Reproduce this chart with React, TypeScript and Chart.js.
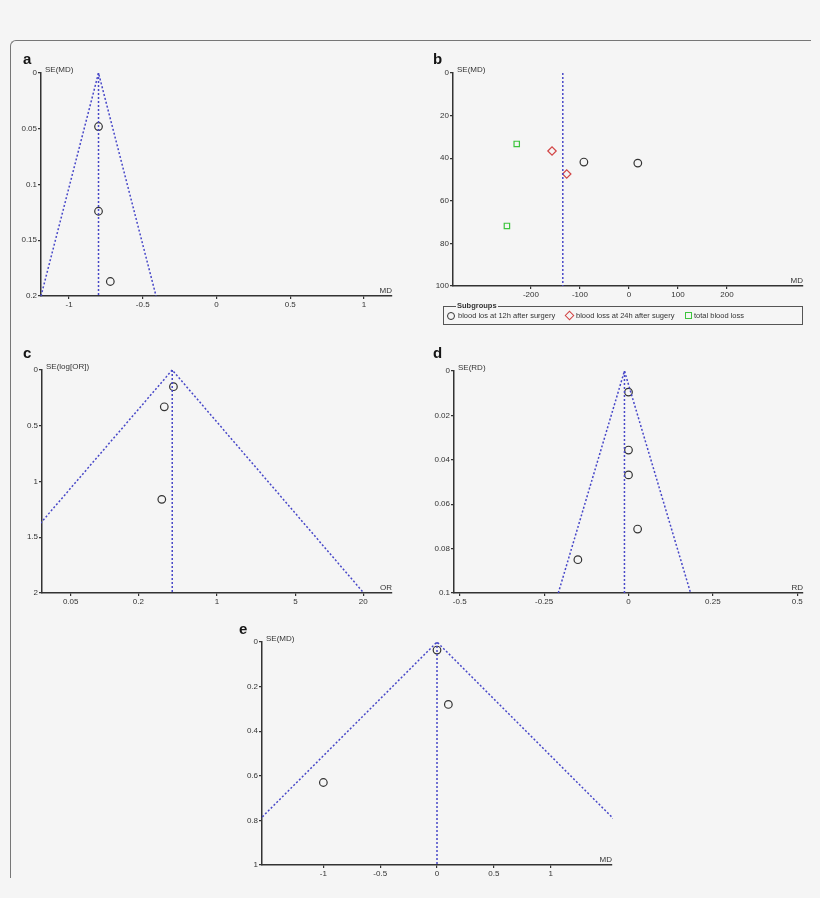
import { useEffect, useRef } from "react";
import { Chart, registerables } from "chart.js";

Chart.register(...registerables);

const FONT = '"Liberation Sans", Arial, sans-serif';
const BLUE = "#4747c8";
const INK = "#333333";
const BG = "#f5f5f5";

// panel a: SE(MD) against MD
const aStudyMD = [-0.8, -0.8, -0.72];
const aStudySE = [0.048, 0.124, 0.187];
const aFunnelMD = [-1.19, -0.8, -0.41];
const aFunnelSE = [0.2, 0, 0.2];
const aPooled = -0.8;
const aTicksX = [-1, -0.5, 0, 0.5, 1];
const aTicksY = [0, 0.05, 0.1, 0.15, 0.2];

// panel b: three subgroups, only the pooled line
const bGroups = [
  "blood los at 12h after surgery",
  "blood loss at 24h after sugery",
  "total blood loss",
];
const b12hMD = [-92, 18];
const b12hSE = [41.8, 42.3];
const b24hMD = [-157, -127];
const b24hSE = [36.6, 47.4];
const bTotalMD = [-229, -249];
const bTotalSE = [33.3, 71.8];
const bPooled = -135;
const bTicksX = [-200, -100, 0, 100, 200];
const bTicksY = [0, 20, 40, 60, 80, 100];

// panel c: log OR
const cStudyOR = [0.41, 0.34, 0.323];
const cStudySE = [0.15, 0.33, 1.16];
const cFunnelOR = [0.0079, 0.4, 20.2];
const cFunnelSE = [2, 0, 2];
const cPooled = 0.4;
const cTicksX = [0.05, 0.2, 1, 5, 20];
const cTicksY = [0, 0.5, 1, 1.5, 2];

// panel d: RD
const dStudyRD = [0, 0, 0, 0.027, -0.15];
const dStudySE = [0.0095, 0.0356, 0.0468, 0.0712, 0.085];
const dFunnelRD = [-0.208, -0.012, 0.184];
const dFunnelSE = [0.1, 0, 0.1];
const dPooled = -0.012;
const dTicksX = [-0.5, -0.25, 0, 0.25, 0.5];
const dTicksY = [0, 0.02, 0.04, 0.06, 0.08, 0.1];

// panel e: MD
const eStudyMD = [0, 0.1, -1];
const eStudySE = [0.036, 0.28, 0.63];
const eFunnelMD = [-1.96, 0, 1.96];
const eFunnelSE = [1, 0, 1];
const ePooled = 0;
const eTicksX = [-1, -0.5, 0, 0.5, 1];
const eTicksY = [0, 0.2, 0.4, 0.6, 0.8, 1];

type Box = { x: number; y: number; w: number; h: number };
type Area = { l: number; t: number; r: number; b: number };
type PanelSpec = {
  letter: string;
  letterAt: [number, number];
  box: Box;
  area: Area;
  xType: "linear" | "logarithmic";
  xMin: number;
  xMax: number;
  xTicks: number[];
  yMax: number;
  yTicks: number[];
  xTitle: string;
  yTitle: string;
  datasets: any[];
};

const pts = (xs: number[], ys: number[]) => xs.map((x, i) => ({ x, y: ys[i] }));

const dashed = (data: { x: number; y: number }[]) => ({
  data,
  showLine: true,
  borderColor: BLUE,
  borderWidth: 1.5,
  borderDash: [2, 2],
  pointRadius: 0,
  fill: false,
  clip: 1,
});

const marks = (data: { x: number; y: number }[], style: string, color: string, r = 3.8) => ({
  data,
  showLine: false,
  pointStyle: style,
  pointRadius: r,
  pointBorderColor: color,
  pointBorderWidth: 1.2,
  pointBackgroundColor: "rgba(0,0,0,0)",
});

const panels: PanelSpec[] = [
  {
    letter: "a",
    letterAt: [23, 64],
    box: { x: 14, y: 44, w: 396, h: 270 },
    area: { l: 41, t: 73, r: 392, b: 296 },
    xType: "linear",
    xMin: -1.19,
    xMax: 1.19,
    xTicks: aTicksX,
    yMax: 0.2,
    yTicks: aTicksY,
    xTitle: "MD",
    yTitle: "SE(MD)",
    datasets: [
      dashed(pts(aFunnelMD, aFunnelSE)),
      dashed(pts([aPooled, aPooled], [0, 0.2])),
      marks(pts(aStudyMD, aStudySE), "circle", INK),
    ],
  },
  {
    letter: "b",
    letterAt: [433, 64],
    box: { x: 420, y: 44, w: 396, h: 260 },
    area: { l: 453, t: 73, r: 803, b: 286 },
    xType: "linear",
    xMin: -359,
    xMax: 355,
    xTicks: bTicksX,
    yMax: 100,
    yTicks: bTicksY,
    xTitle: "MD",
    yTitle: "SE(MD)",
    datasets: [
      dashed(pts([bPooled, bPooled], [0, 100])),
      marks(pts(b12hMD, b12hSE), "circle", INK),
      marks(pts(b24hMD, b24hSE), "rectRot", "#d24545", 4.2),
      marks(pts(bTotalMD, bTotalSE), "rect", "#3cc43c", 3.8),
    ],
  },
  {
    letter: "c",
    letterAt: [23, 358],
    box: { x: 14, y: 340, w: 396, h: 270 },
    area: { l: 42, t: 370, r: 392, b: 593 },
    xType: "logarithmic",
    xMin: 0.0278,
    xMax: 36,
    xTicks: cTicksX,
    yMax: 2,
    yTicks: cTicksY,
    xTitle: "OR",
    yTitle: "SE(log[OR])",
    datasets: [
      dashed(pts(cFunnelOR, cFunnelSE)),
      dashed(pts([cPooled, cPooled], [0, 2])),
      marks(pts(cStudyOR, cStudySE), "circle", INK),
    ],
  },
  {
    letter: "d",
    letterAt: [433, 358],
    box: { x: 420, y: 340, w: 396, h: 270 },
    area: { l: 454, t: 371, r: 803, b: 593 },
    xType: "linear",
    xMin: -0.517,
    xMax: 0.517,
    xTicks: dTicksX,
    yMax: 0.1,
    yTicks: dTicksY,
    xTitle: "RD",
    yTitle: "SE(RD)",
    datasets: [
      dashed(pts(dFunnelRD, dFunnelSE)),
      dashed(pts([dPooled, dPooled], [0, 0.1])),
      marks(pts(dStudyRD, dStudySE), "circle", INK),
    ],
  },
  {
    letter: "e",
    letterAt: [239, 634],
    box: { x: 214, y: 615, w: 420, h: 270 },
    area: { l: 262, t: 642, r: 612, b: 865 },
    xType: "linear",
    xMin: -1.54,
    xMax: 1.54,
    xTicks: eTicksX,
    yMax: 1,
    yTicks: eTicksY,
    xTitle: "MD",
    yTitle: "SE(MD)",
    datasets: [
      dashed(pts(eFunnelMD, eFunnelSE)),
      dashed(pts([ePooled, ePooled], [0, 1])),
      marks(pts(eStudyMD, eStudySE), "circle", INK),
    ],
  },
];

// letter and axis titles drawn on the canvas
const panelText = {
  id: "panelText",
  afterDraw(chart: any, _args: any, opts: any) {
    const { ctx, chartArea } = chart;
    ctx.save();
    ctx.fillStyle = "#151515";
    ctx.font = `bold 15px ${FONT}`;
    ctx.textBaseline = "alphabetic";
    ctx.textAlign = "left";
    ctx.fillText(opts.letter, opts.lx, opts.ly);
    ctx.fillStyle = INK;
    ctx.font = `8px ${FONT}`;
    ctx.textBaseline = "middle";
    ctx.fillText(opts.yTitle, chartArea.left + 4, chartArea.top - 3);
    ctx.textAlign = "right";
    ctx.textBaseline = "bottom";
    ctx.fillText(opts.xTitle, chartArea.right, chartArea.bottom - 1);
    ctx.restore();
  },
};

function buildConfig(s: PanelSpec): any {
  const tickOpts = {
    autoSkip: false,
    maxRotation: 0,
    minRotation: 0,
    padding: 1,
    color: INK,
    font: { family: FONT, size: 8 },
    callback: (v: number) => String(v),
  };
  const lines = {
    grid: { display: true, drawOnChartArea: false, drawTicks: true, tickLength: 3, color: INK, lineWidth: 1.2 },
    border: { display: true, color: INK, width: 1.5 },
  };
  return {
    type: "scatter",
    data: { datasets: s.datasets },
    options: {
      animation: false,
      responsive: false,
      events: [],
      layout: {
        padding: { left: 0, top: s.area.t - s.box.y, right: s.box.x + s.box.w - s.area.r, bottom: 0 },
      },
      plugins: {
        legend: { display: false },
        tooltip: { enabled: false },
        panelText: {
          letter: s.letter,
          lx: s.letterAt[0] - s.box.x,
          ly: s.letterAt[1] - s.box.y,
          xTitle: s.xTitle,
          yTitle: s.yTitle,
        },
      },
      scales: {
        x: {
          type: s.xType,
          min: s.xMin,
          max: s.xMax,
          afterBuildTicks: (sc: any) => {
            sc.ticks = s.xTicks.map((v) => ({ value: v }));
          },
          afterFit: (sc: any) => {
            sc.height = s.box.y + s.box.h - s.area.b;
          },
          ticks: tickOpts,
          ...lines,
        },
        y: {
          type: "linear",
          reverse: true,
          min: 0,
          max: s.yMax,
          afterBuildTicks: (sc: any) => {
            sc.ticks = s.yTicks.map((v) => ({ value: v }));
          },
          afterFit: (sc: any) => {
            sc.width = s.area.l - s.box.x;
          },
          ticks: tickOpts,
          ...lines,
        },
      },
    },
    plugins: [panelText],
  };
}

function FunnelPanel({ spec }: { spec: PanelSpec }) {
  const ref = useRef<HTMLCanvasElement>(null);

  useEffect(() => {
    if (!ref.current) return;
    const chart = new Chart(ref.current, buildConfig(spec));
    return () => {
      chart.destroy();
    };
  }, [spec]);

  const { x, y, w, h } = spec.box;
  return (
    <canvas
      ref={ref}
      width={w}
      height={h}
      style={{ position: "absolute", left: x, top: y, width: w, height: h }}
    />
  );
}

const markerStyles: React.CSSProperties[] = [
  { width: 6, height: 6, border: `1px solid ${INK}`, borderRadius: "50%" },
  { width: 5, height: 5, border: "1.2px solid #d24545", transform: "rotate(45deg)" },
  { width: 5, height: 5, border: "1px solid #3cc43c" },
];
const markerLeft = [3, 122, 241];
const labelLeft = [14, 132, 250];

function SubgroupLegend() {
  return (
    <div
      style={{
        position: "absolute",
        left: 443,
        top: 306,
        width: 358,
        height: 17,
        border: "1px solid #555",
        fontFamily: FONT,
        fontSize: 7.5,
        color: INK,
      }}
    >
      <span
        style={{
          position: "absolute",
          left: 12,
          top: -6,
          padding: "0 1px",
          background: BG,
          fontWeight: "bold",
          lineHeight: "10px",
        }}
      >
        Subgroups
      </span>
      {bGroups.map((g, i) => (
        <div key={g}>
          <span
            style={{
              position: "absolute",
              left: markerLeft[i],
              top: 5,
              boxSizing: "content-box",
              ...markerStyles[i],
            }}
          />
          <span style={{ position: "absolute", left: labelLeft[i], top: 4, lineHeight: "10px", whiteSpace: "nowrap" }}>
            {g}
          </span>
        </div>
      ))}
    </div>
  );
}

export default function App() {
  return (
    <div
      style={{
        position: "absolute",
        left: 0,
        top: 0,
        width: 820,
        height: 898,
        background: BG,
        overflow: "hidden",
      }}
    >
      <div
        style={{
          position: "absolute",
          left: 10,
          top: 40,
          width: 800,
          height: 837,
          borderTop: "1.5px solid #777",
          borderLeft: "1.5px solid #777",
          borderTopLeftRadius: 6,
        }}
      />
      {panels.map((p) => (
        <FunnelPanel key={p.letter} spec={p} />
      ))}
      <SubgroupLegend />
    </div>
  );
}
